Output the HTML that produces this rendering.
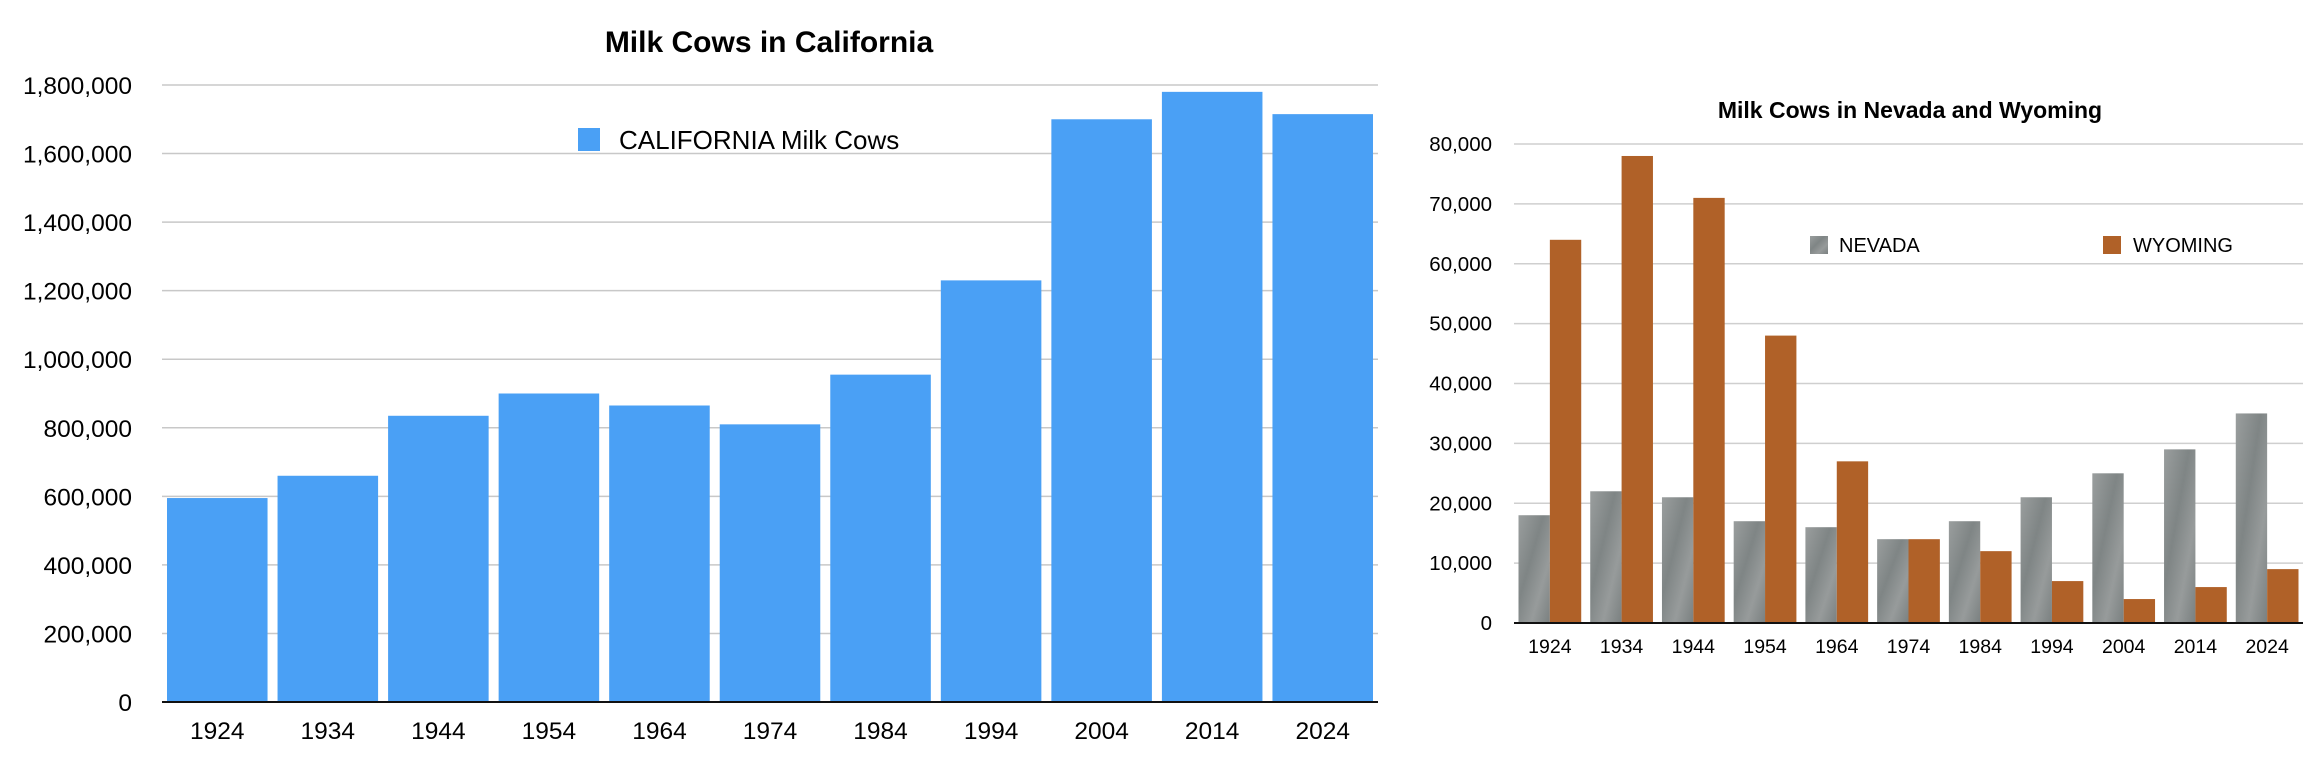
<!DOCTYPE html>
<html><head><meta charset="utf-8"><style>
html,body{margin:0;padding:0;background:#fff;}
svg{display:block;font-family:"Liberation Sans",sans-serif;}
</style></head><body>
<svg id="s" width="2323" height="767" viewBox="0 0 2323 767">
<defs>
<linearGradient id="stone" x1="0" y1="0" x2="1" y2="1">
<stop offset="0" stop-color="#9a9e9e"/><stop offset="0.4" stop-color="#7f8585"/><stop offset="0.7" stop-color="#979b9b"/><stop offset="1" stop-color="#7a8080"/>
</linearGradient>
</defs>
<text x="769" y="52" text-anchor="middle" font-size="30" font-weight="bold">Milk Cows in California</text>
<text x="1910" y="118" text-anchor="middle" font-size="23" font-weight="bold">Milk Cows in Nevada and Wyoming</text>
<g id="ca"></g><g id="nw"></g>
<rect x="578" y="128" width="22" height="23" fill="#4aa0f5"/>
<text x="619" y="149" font-size="26">CALIFORNIA Milk Cows</text>
<rect x="1810" y="236" width="18" height="18" fill="url(#stone)"/>
<text x="1839" y="252" font-size="20">NEVADA</text>
<rect x="2103" y="236" width="18" height="18" fill="#b06128"/>
<text x="2133" y="252" font-size="20">WYOMING</text>
</svg>
<script>
const years = ["1924","1934","1944","1954","1964","1974","1984","1994","2004","2014","2024"];
const caValues = [595000,660000,835000,900000,865000,810000,955000,1230000,1700000,1780000,1715000];
const caTicks = [0,200000,400000,600000,800000,1000000,1200000,1400000,1600000,1800000];
const nvValues = [18000,22000,21000,17000,16000,14000,17000,21000,25000,29000,35000];
const wyValues = [64000,78000,71000,48000,27000,14000,12000,7000,4000,6000,9000];
const nwTicks = [0,10000,20000,30000,40000,50000,60000,70000,80000];

const NS="http://www.w3.org/2000/svg";
function mk(parent,tag,attrs,text){const e=document.createElementNS(NS,tag);for(const k in attrs)e.setAttribute(k,attrs[k]);if(text!==undefined)e.textContent=text;parent.appendChild(e);return e;}
const fmt=v=>v.toLocaleString('en-US');

(function(){
  const g=document.getElementById('ca');
  const x0=162,x1=1378,yb=702,yt=85,max=1800000;
  const y=v=>yb-(v/max)*(yb-yt);
  const cw=(x1-x0)/years.length;
  caTicks.forEach(t=>{
    if(t>0){const l=mk(g,'line',{x1:x0,x2:x1,y1:y(t),y2:y(t),stroke:'#c8c8c8','stroke-width':1.5});
    
    }
    const tx=mk(g,'text',{x:132,y:y(t)+9,'text-anchor':'end','font-size':24.5},fmt(t));
    
    
  });
  years.forEach((yr,i)=>{
    const bx=x0+i*cw+5;
    const r=mk(g,'rect',{x:bx,y:y(caValues[i]),width:cw-10,height:yb-y(caValues[i]),fill:'#4aa0f5'});
    
    
    const tx=mk(g,'text',{x:x0+i*cw+cw/2,y:739,'text-anchor':'middle','font-size':24.5},yr);
    
    
  });
  const ax=mk(g,'line',{x1:x0,x2:x1,y1:yb,y2:yb,stroke:'#111','stroke-width':2});
  
  
})();

(function(){
  const g=document.getElementById('nw');
  const x0=1514,x1=2303,yb=623,yt=144,max=80000;
  const y=v=>yb-(v/max)*(yb-yt);
  const cw=(x1-x0)/years.length;
  nwTicks.forEach(t=>{
    if(t>0){const l=mk(g,'line',{x1:x0,x2:x1,y1:y(t),y2:y(t),stroke:'#cfcfcf','stroke-width':1.5});
    
    }
    const tx=mk(g,'text',{x:1492,y:y(t)+7,'text-anchor':'end','font-size':20.5},fmt(t));
    
    
  });
  const bw=(cw-9)/2;
  years.forEach((yr,i)=>{
    const bx=x0+i*cw+4.5;
    const n=mk(g,'rect',{x:bx,y:y(nvValues[i]),width:bw,height:yb-y(nvValues[i]),fill:'url(#stone)'});
    
    
    const w=mk(g,'rect',{x:bx+bw,y:y(wyValues[i]),width:bw,height:yb-y(wyValues[i]),fill:'#b06128'});
    
    
    const tx=mk(g,'text',{x:x0+i*cw+cw/2,y:653,'text-anchor':'middle','font-size':19.5},yr);
    
    
  });
  const ax=mk(g,'line',{x1:x0,x2:x1,y1:yb,y2:yb,stroke:'#111','stroke-width':2});
  
  
})();
</script>
</body></html>
